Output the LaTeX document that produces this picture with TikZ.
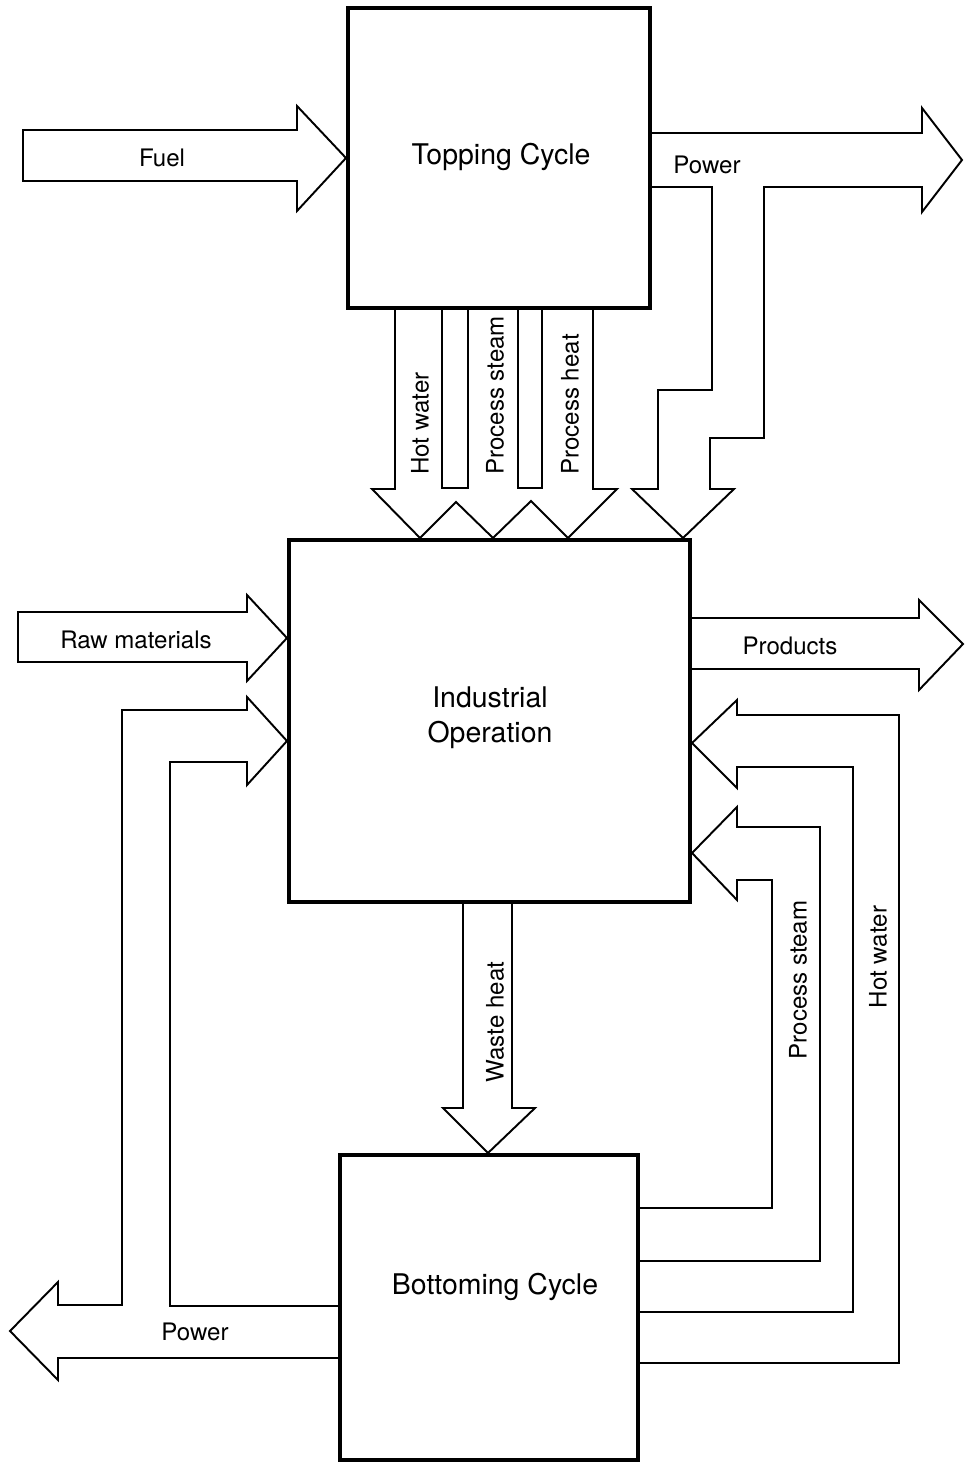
\documentclass[tikz,border=0pt]{standalone}
\usepackage{fontspec}
\setmainfont{TeX Gyre Heros}
\tikzset{
  box/.style={draw,line width=2.3pt,inner sep=0pt},
  flow/.style={line width=1.1pt,line join=miter},
  lbl/.style={inner sep=0pt,font=\fontsize{13.7}{16}\selectfont},
  boxlbl/.style={inner sep=0pt,align=center,font=\fontsize{16.2}{20}\selectfont},
}
\begin{document}
\begin{tikzpicture}[x=0.2mm,y=-0.2mm]
\useasboundingbox (0,0) rectangle (964,1463);

% the three plants
\node[box,minimum width=60.4mm,minimum height=60mm] (top) at (499,158) {};
\node[box,minimum width=80.2mm,minimum height=72.4mm] (mid) at (489.5,721) {};
\node[box,minimum width=59.6mm,minimum height=61mm] (bot) at (489,1307.5) {};
\node[boxlbl] (toplbl) at (501,157) {Topping Cycle};
\node[boxlbl] (midlbl) at (490,718) {Industrial\\Operation};
\node[boxlbl] (botlbl) at (495,1287) {Bottoming Cycle};

% fuel and raw materials in, products out
\draw[flow] (23,130) -- (297,130) -- (297,106) -- (top.west) -- (297,211) -- (297,181) -- (23,181) -- cycle;
\draw[flow] (18,612) -- (247,612) -- (247,595) -- (mid.west |- 0,638) -- (247,681) -- (247,662) -- (18,662) -- cycle;
\draw[flow] (mid.east |- 0,618) -- (919,618) -- (919,600) -- (963,644) -- (919,690) -- (919,669) -- (mid.east |- 0,669);

% topping cycle heat to the plant
\draw[flow] (top.south -| 395,0) -- (395,489) -- (372,489) -- (mid.north -| 420,0) -- (456,502)
  -- (mid.north -| 493,0) -- (531,501) -- (mid.north -| 568,0) -- (617,489) -- (593,489) -- (top.south -| 593,0);
\draw[flow] (top.south -| 442,0) -- (442,488) -- (468,488) -- (top.south -| 468,0);
\draw[flow] (top.south -| 518,0) -- (518,488) -- (542,488) -- (top.south -| 542,0);

% topping cycle power, out and to the plant
\draw[flow] (top.east |- 0,133) -- (922,133) -- (922,108) -- (962,160) -- (922,212) -- (922,187)
  -- (764,187) -- (764,438) -- (710,438) -- (710,489) -- (734,489) -- (mid.north -| 683,0)
  -- (632,489) -- (658,489) -- (658,390) -- (712,390) -- (712,187) -- (top.east |- 0,187);

% waste heat down
\draw[flow] (mid.south -| 463,0) -- (463,1108) -- (443,1108) -- (bot.north -| 488,0) -- (535,1108) -- (512,1108) -- (mid.south -| 512,0);

% bottoming cycle power, out and back up
\draw[flow] (bot.west |- 0,1358) -- (58,1358) -- (58,1380) -- (10,1331) -- (58,1282) -- (58,1305)
  -- (122,1305) -- (122,710) -- (247,710) -- (247,697) -- (mid.west |- 0,741) -- (247,785)
  -- (247,762) -- (170,762) -- (170,1306) -- (bot.west |- 0,1306);

% bottoming cycle hot water and steam back to the plant
\draw[flow] (bot.east |- 0,1363) -- (899,1363) -- (899,715) -- (737,715) -- (737,700) -- (mid.east |- 0,743)
  -- (737,788) -- (737,767) -- (853,767) -- (853,1312) -- (bot.east |- 0,1312);
\draw[flow] (bot.east |- 0,1261) -- (820,1261) -- (820,827) -- (737,827) -- (737,807) -- (mid.east |- 0,853)
  -- (737,900) -- (737,880) -- (772,880) -- (772,1208) -- (bot.east |- 0,1208);

% labels
\node[lbl] (fuel) at (162,158) {Fuel};
\node[lbl] (rawmat) at (136,640) {Raw materials};
\node[lbl] (products) at (790,646) {Products};
\node[lbl] (toppower) at (707,165) {Power};
\node[lbl] (botpower) at (195,1332) {Power};
\node[lbl,rotate=90,anchor=west] (tophw) at (420,475) {Hot water};
\node[lbl,rotate=90,anchor=west] (topps) at (495,475) {Process steam};
\node[lbl,rotate=90,anchor=west] (topph) at (570,475) {Process heat};
\node[lbl,rotate=90] (waste) at (495,1022) {Waste heat};
\node[lbl,rotate=90] (botps) at (798,980) {Process steam};
\node[lbl,rotate=90] (bothw) at (878,957) {Hot water};
\end{tikzpicture}
\end{document}
